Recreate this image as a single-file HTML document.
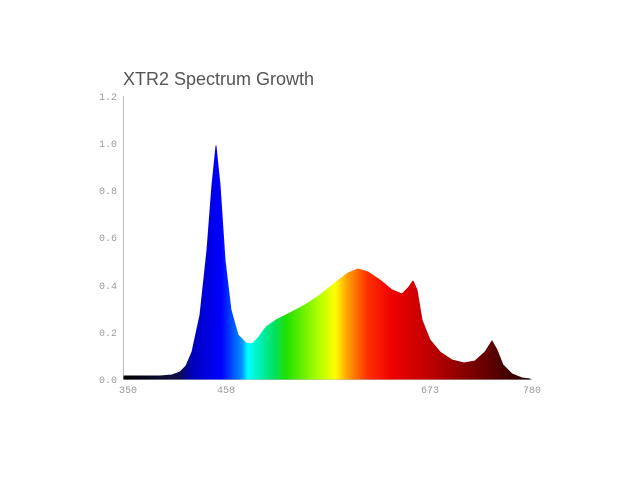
<!DOCTYPE html>
<html><head><style>body{margin:0;background:#fff}</style></head><body>
<svg width="640" height="480" xmlns="http://www.w3.org/2000/svg" style="display:block">
<defs>
<linearGradient id="g" gradientUnits="userSpaceOnUse" x1="124" y1="0" x2="530" y2="0">
<stop offset="0" stop-color="#000"/>
<stop offset="0.13" stop-color="#101040"/>
<stop offset="0.17" stop-color="#0000c0"/>
<stop offset="0.24" stop-color="#0000ff"/>
<stop offset="0.29" stop-color="#0090ff"/>
<stop offset="0.305" stop-color="#00ffff"/>
<stop offset="0.37" stop-color="#00e060"/>
<stop offset="0.40" stop-color="#20e000"/>
<stop offset="0.48" stop-color="#b0ff00"/>
<stop offset="0.52" stop-color="#ffff00"/>
<stop offset="0.55" stop-color="#ffa000"/>
<stop offset="0.60" stop-color="#ff3000"/>
<stop offset="0.66" stop-color="#f00000"/>
<stop offset="0.75" stop-color="#c00000"/>
<stop offset="0.85" stop-color="#800000"/>
<stop offset="0.95" stop-color="#400000"/>
<stop offset="1" stop-color="#200000"/>
</linearGradient>
</defs>
<text x="123" y="85" font-family="Liberation Sans, sans-serif" font-size="18" fill="#555">XTR2 Spectrum Growth</text>
<g font-family="Liberation Mono, monospace" font-size="10" fill="#999" text-anchor="end">
<text x="117" y="100">1.2</text>
<text x="117" y="147">1.0</text>
<text x="117" y="194">0.8</text>
<text x="117" y="241">0.6</text>
<text x="117" y="289">0.4</text>
<text x="117" y="336">0.2</text>
<text x="117" y="383">0.0</text>
</g>
<g font-family="Liberation Mono, monospace" font-size="10" fill="#999" text-anchor="middle">
<text x="128" y="393">350</text>
<text x="226" y="393">458</text>
<text x="430" y="393">673</text>
<text x="532" y="393">780</text>
</g>
<line x1="123.5" y1="96" x2="123.5" y2="380" stroke="#bbb"/>
<line x1="123" y1="379.5" x2="532" y2="379.5" stroke="#bbb"/>
<path fill="url(#g)" stroke="url(#g)" stroke-width="1" stroke-linejoin="round" d="M124,379 L124,376 L160,376 L172,375 L180,372 L186,366 L192,352 L200,315 L207,250 L212,185 L216,146 L220,185 L225,260 L231,310 L238,335 L246,343 L252,344 L258,338 L266,327 L276,320 L290,313 L305,305 L320,295 L335,283 L348,273 L358,269 L368,272 L380,280 L392,290 L402,294 L408,288 L413,281 L417,290 L422,320 L430,340 L440,352 L452,360 L464,363 L475,361 L485,352 L492,341 L497,350 L503,365 L512,374 L522,378 L530,379 Z"/>
</svg>
</body></html>
